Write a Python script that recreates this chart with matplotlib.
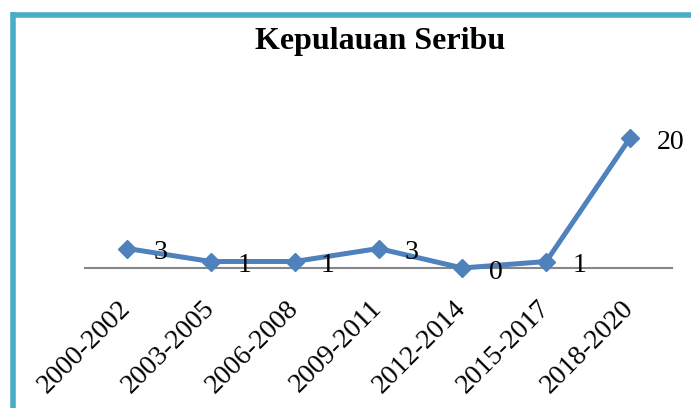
import matplotlib
matplotlib.use("Agg")
import matplotlib.pyplot as plt
import matplotlib.transforms as mtransforms
from matplotlib.lines import Line2D

periode = ["2000-2002", "2003-2005", "2006-2008", "2009-2011", "2012-2014", "2015-2017", "2018-2020"]
jumlah = [3, 1, 1, 3, 0, 1, 20]

warna_garis = "#4F81BD"
warna_bingkai = "#4BACC6"
huruf = "Liberation Serif"

fig = plt.figure(figsize=(6.91, 4.08), dpi=100)
fig.patch.set_facecolor("white")

# bingkai kiri dan atas (grafik terpotong)
fig.add_artist(Line2D([13.5 / 691, 13.5 / 691], [0, 1 - 12 / 408], transform=fig.transFigure,
                      color=warna_bingkai, linewidth=4, solid_capstyle="butt"))
fig.add_artist(Line2D([11 / 691, 1], [1 - 14.5 / 408, 1 - 14.5 / 408], transform=fig.transFigure,
                      color=warna_bingkai, linewidth=4, solid_capstyle="butt"))

ax = fig.add_axes([85 / 691, 140 / 408, 587 / 691, 162.5 / 408])
x = list(range(len(periode)))
ax.plot(x, jumlah, color=warna_garis, linewidth=3.6, marker="D", markersize=9.5,
        markerfacecolor=warna_garis, markeredgecolor=warna_garis, zorder=3, clip_on=False)

for i, v in enumerate(jumlah):
    ax.annotate(str(v), (i, v), xytext=(19, -3), textcoords="offset points",
                ha="left", va="center", fontsize=20, family=huruf, color="black")

ax.set_xlim(-0.5, len(periode) - 0.5)
ax.set_ylim(0, 25)
ax.set_xticks(x)
ax.set_xticklabels(periode, rotation=45, ha="right", rotation_mode="anchor",
                   fontsize=20, family=huruf)
ax.tick_params(axis="x", length=0, pad=20)
geser = mtransforms.ScaledTranslation(-9 / 100, 0, fig.dpi_scale_trans)
for lbl in ax.get_xticklabels():
    lbl.set_transform(lbl.get_transform() + geser)
ax.set_yticks([])
for s in ["top", "right", "left"]:
    ax.spines[s].set_visible(False)
ax.spines["bottom"].set_color("#868686")
ax.spines["bottom"].set_linewidth(1.5)
ax.spines["bottom"].set_zorder(1)
ax.patch.set_alpha(0)

fig.text(380 / 691, 1 - 42 / 408, "Kepulauan Seribu", ha="center", va="center",
         fontsize=23, fontweight="bold", family=huruf)

plt.savefig("out.png", dpi=100, facecolor="white")
plt.close()
